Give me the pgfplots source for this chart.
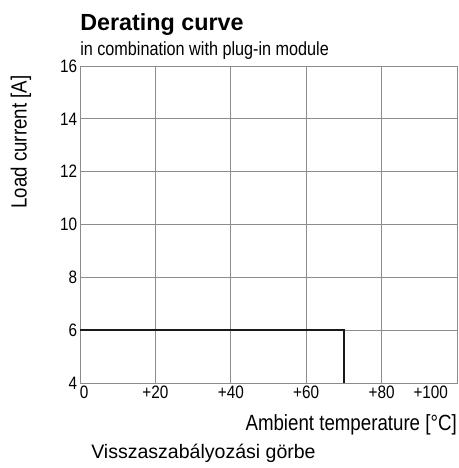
\documentclass[border=0pt]{standalone}
\usepackage{fontspec}
\setmainfont{Liberation Sans}[FakeStretch=0.85]
\newfontfamily\capfont{Liberation Sans}
\newfontfamily\titlefont{Liberation Sans}
\newfontfamily\tickfont{Liberation Sans}[FakeStretch=0.85]
\usepackage{pgfplots}
\pgfplotsset{compat=1.18}
\definecolor{gridgray}{RGB}{140,140,140}
\begin{document}
\begin{tikzpicture}[x=0.75pt,y=0.75pt]
\path[use as bounding box] (0,0) rectangle (459,468);
\begin{axis}[
  at={(60pt,63.75pt)}, anchor=south west,
  scale only axis, width=282.75pt, height=237.75pt,
  xmin=0, xmax=100, ymin=4, ymax=16,
  xtick={0,20,40,60,80,100},
  ytick={4,6,8,10,12,14,16},
  xticklabel={\ifcase\ticknum\makebox[0pt][l]{0}\or +20\or +40\or +60\or +80\or \makebox[0pt][r]{+100\hspace{6.75pt}}\fi},
  /pgf/number format/assume math mode=true,
  grid=major,
  grid style={gridgray, line width=0.6pt},
  axis line style={gridgray, line width=0.6pt},
  major tick length=0pt,
  tick style={draw=none},
  tick label style={font=\tickfont\fontsize{13.5}{14}\selectfont},
  yticklabel style={inner xsep=2pt},
  xticklabel style={inner ysep=2pt},
]
\addplot[black!90, line width=1.5pt] coordinates {(0,6) (70,6) (70,4)};
\end{axis}
\node[anchor=base west, inner sep=0, font=\titlefont\bfseries\fontsize{17.5}{20}\selectfont] at (80,437) {Derating curve};
\node[anchor=base west, inner sep=0, font=\fontsize{14.3}{16}\selectfont] at (80,412) {in combination with plug-in module};
\node[anchor=base east, inner sep=0, font=\fontsize{16.5}{18}\selectfont] at (457,37) {Ambient temperature [°C]};
\node[rotate=90, inner sep=0, font=\fontsize{16.5}{18}\selectfont] at (21,326) {Load current [A]};
\node[anchor=base west, inner sep=0, font=\capfont\fontsize{14.65}{16}\selectfont] at (91,9) {Visszaszabályozási görbe};
\end{tikzpicture}
\end{document}
